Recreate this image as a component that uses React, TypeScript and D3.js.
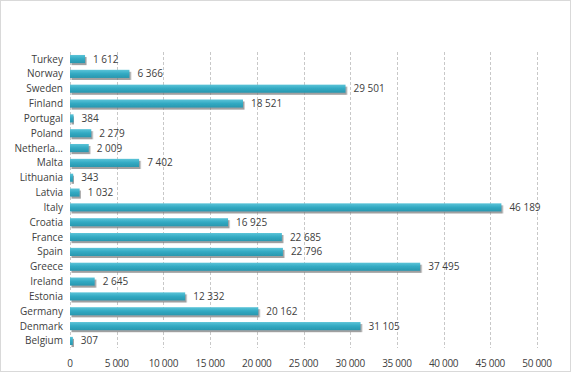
import React, { useEffect, useRef } from "react";
import * as d3 from "d3";

const countries = [
  "Turkey", "Norway", "Sweden", "Finland", "Portugal", "Poland", "Netherla...",
  "Malta", "Lithuania", "Latvia", "Italy", "Croatia", "France", "Spain",
  "Greece", "Ireland", "Estonia", "Germany", "Denmark", "Belgium",
];
const values = [
  1612, 6366, 29501, 18521, 384, 2279, 2009, 7402, 343, 1032, 46189, 16925,
  22685, 22796, 37495, 2645, 12332, 20162, 31105, 307,
];
const ticks = [0, 5000, 10000, 15000, 20000, 25000, 30000, 35000, 40000, 45000, 50000];

const W = 572;
const H = 373;
const fmt = (v: number) => d3.format(",")(v).replace(/,/g, " ");

export default function App() {
  const ref = useRef<SVGSVGElement>(null);

  useEffect(() => {
    const svg = d3.select(ref.current);
    svg.selectAll("*").remove();

    const margin = { top: 52, right: 35, bottom: 25, left: 70 };
    const x = d3.scaleLinear().domain([0, 50000]).range([margin.left, 537]);
    const y = d3
      .scaleBand()
      .domain(countries)
      .range([margin.top, 348])
      .paddingInner(0.45)
      .paddingOuter(0.2);

    const defs = svg.append("defs");
    const shadow = defs.append("filter").attr("id", "shadow")
      .attr("x", "-10%").attr("y", "-50%").attr("width", "120%").attr("height", "250%");
    shadow.append("feDropShadow")
      .attr("dx", 1.5).attr("dy", 2).attr("stdDeviation", 0.7)
      .attr("flood-color", "#777").attr("flood-opacity", 0.7);

    const grad = defs.append("linearGradient").attr("id", "barGrad")
      .attr("x1", 0).attr("y1", 0).attr("x2", 0).attr("y2", 1);
    grad.append("stop").attr("offset", "0%").attr("stop-color", "#5cc4d8");
    grad.append("stop").attr("offset", "50%").attr("stop-color", "#31a9c2");
    grad.append("stop").attr("offset", "100%").attr("stop-color", "#2a97ae");

    // outer frame
    svg.append("rect")
      .attr("x", 0.5).attr("y", 0.5).attr("width", W - 2).attr("height", H - 2)
      .attr("fill", "white").attr("stroke", "#b3b3b3").attr("stroke-dasharray", "1,1");

    // gridlines
    svg.append("g")
      .selectAll("line")
      .data(ticks)
      .enter()
      .append("line")
      .attr("x1", (d) => Math.round(x(d)) + 0.5)
      .attr("x2", (d) => Math.round(x(d)) + 0.5)
      .attr("y1", margin.top)
      .attr("y2", 348)
      .attr("stroke", "#c8c8c8")
      .attr("stroke-dasharray", "3,2");

    // bars
    svg.append("g")
      .selectAll("rect")
      .data(values)
      .enter()
      .append("rect")
      .attr("x", x(0))
      .attr("y", (d, i) => y(countries[i])!)
      .attr("width", (d) => Math.max(2, x(d) - x(0)))
      .attr("height", y.bandwidth())
      .attr("fill", "url(#barGrad)")
      .attr("filter", "url(#shadow)");

    // value labels
    svg.append("g")
      .selectAll("text")
      .data(values)
      .enter()
      .append("text")
      .attr("x", (d) => x(d) + Math.max(6, 0))
      .attr("dx", (d) => (x(d) - x(0) < 2 ? 4 : 2))
      .attr("y", (d, i) => y(countries[i])! + y.bandwidth() / 2)
      .attr("dy", "0.35em")
      .attr("font-family", "'Open Sans', sans-serif")
      .attr("font-size", 10)
      .attr("fill", "#404040")
      .text((d) => fmt(d));

    // category labels
    svg.append("g")
      .selectAll("text")
      .data(countries)
      .enter()
      .append("text")
      .attr("x", 63)
      .attr("y", (d) => y(d)! + y.bandwidth() / 2)
      .attr("dy", "0.35em")
      .attr("text-anchor", "end")
      .attr("font-family", "'Open Sans', sans-serif")
      .attr("font-size", 10)
      .attr("fill", "#404040")
      .text((d) => d);

    // x tick labels
    svg.append("g")
      .selectAll("text")
      .data(ticks)
      .enter()
      .append("text")
      .attr("x", (d) => x(d))
      .attr("y", 363)
      .attr("dy", "0.35em")
      .attr("text-anchor", "middle")
      .attr("font-family", "'Open Sans', sans-serif")
      .attr("font-size", 10)
      .attr("letter-spacing", -0.3)
      .attr("fill", "#404040")
      .text((d) => fmt(d));
  }, []);

  return (
    <svg
      ref={ref}
      width={W}
      height={H}
      style={{ position: "absolute", left: 0, top: 0, background: "white" }}
    />
  );
}
